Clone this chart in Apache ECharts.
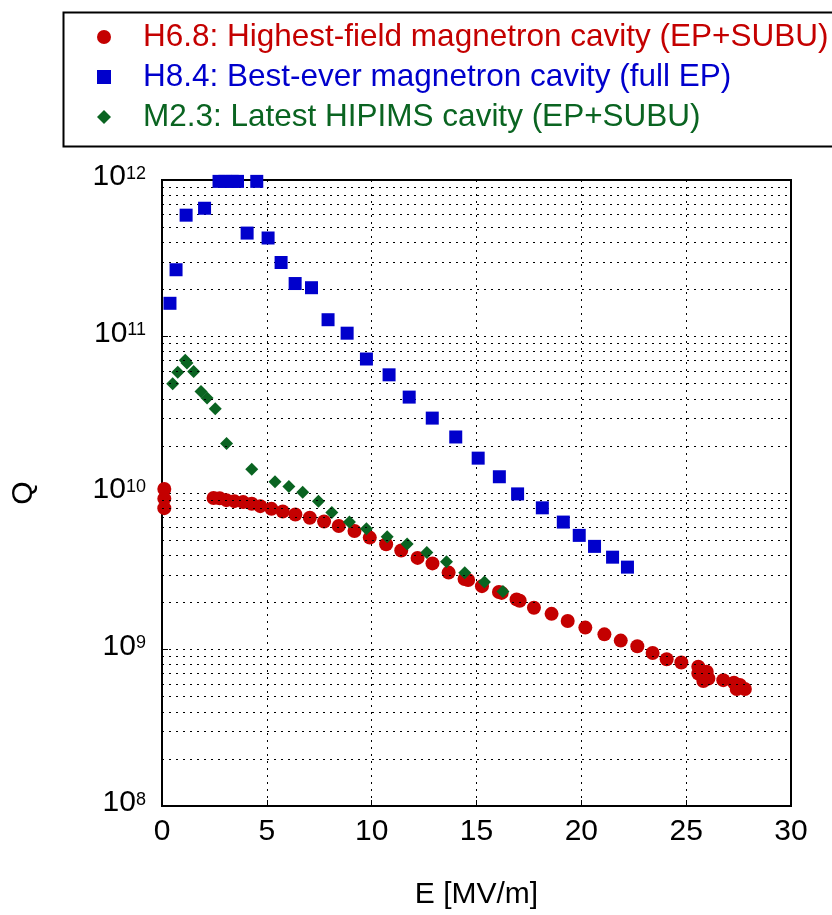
<!DOCTYPE html>
<html>
<head>
<meta charset="utf-8">
<script src="https://cdn.jsdelivr.net/npm/echarts@6/dist/echarts.min.js"></script>
<style>
  html, body { margin: 0; padding: 0; background: #fff; }
  #main { width: 832px; height: 915px; }
</style>
</head>
<body>
<div id="main"></div>
<script>
// data: E [MV/m] and Q
var redName = 'H6.8: Highest-field magnetron cavity (EP+SUBU)'
var blueName = 'H8.4: Best-ever magnetron cavity (full EP)'
var greenName = 'M2.3: Latest HIPIMS cavity (EP+SUBU)'

var redE = [0.11, 0.11, 0.11, 2.46, 2.75, 3.07, 3.45, 3.87, 4.28, 4.69, 5.22, 5.76, 6.36, 7.05, 7.73,
  8.43, 9.18, 9.91, 10.69, 11.41, 12.19, 12.9, 13.67, 14.43, 14.6, 15.26, 16.07, 16.2, 16.91, 17.06,
  17.74, 18.58, 19.35, 20.19, 21.1, 21.88, 22.67, 23.4, 24.07, 24.77, 25.58, 25.58, 25.98, 26.06,
  25.82, 26.77, 27.28, 27.56, 27.41, 27.8]
var redQ = [1.06e10, 9.2e9, 8.0e9, 9.3e9, 9.25e9, 9.0e9, 8.87e9, 8.75e9, 8.53e9, 8.24e9, 7.92e9, 7.62e9,
  7.29e9, 6.95e9, 6.58e9, 6.15e9, 5.72e9, 5.19e9, 4.7e9, 4.29e9, 3.85e9, 3.55e9, 3.1e9, 2.82e9, 2.78e9,
  2.54e9, 2.33e9, 2.3e9, 2.09e9, 2.05e9, 1.85e9, 1.69e9, 1.52e9, 1.38e9, 1.25e9, 1.14e9, 1.05e9, 9.5e8,
  8.67e8, 8.26e8, 7.76e8, 7.03e8, 7.21e8, 6.53e8, 6.28e8, 6.37e8, 6.14e8, 5.93e8, 5.59e8, 5.59e8]

var blueE = [0.38, 0.67, 1.15, 2.03, 2.72, 3.0, 3.35, 3.6, 4.52, 4.06, 5.06, 5.68, 6.35, 7.13, 7.92, 8.83,
  9.75, 10.83, 11.79, 12.89, 14.01, 15.08, 16.09, 16.96, 18.14, 19.14, 19.9, 20.63, 21.49, 22.2]
var blueQ = [1.63e11, 2.67e11, 5.96e11, 6.6e11, 9.8e11, 9.8e11, 9.8e11, 9.8e11, 9.8e11, 4.58e11, 4.26e11,
  2.97e11, 2.18e11, 2.05e11, 1.28e11, 1.05e11, 7.18e10, 5.69e10, 4.1e10, 3.01e10, 2.28e10, 1.67e10,
  1.27e10, 9.87e9, 8.04e9, 6.52e9, 5.36e9, 4.56e9, 3.89e9, 3.36e9]

var greenE = [0.51, 0.75, 1.11, 1.19, 1.51, 1.86, 2.15, 2.54, 3.08, 4.28, 5.39, 6.05, 6.71, 7.46, 8.1,
  8.94, 9.75, 10.74, 11.69, 12.63, 13.57, 14.44, 15.38, 16.26]
var greenQ = [4.99e10, 5.9e10, 7.04e10, 6.78e10, 5.97e10, 4.46e10, 4.04e10, 3.46e10, 2.07e10, 1.42e10,
  1.18e10, 1.1e10, 1.01e10, 8.87e9, 7.5e9, 6.52e9, 5.91e9, 5.26e9, 4.73e9, 4.16e9, 3.63e9, 3.09e9,
  2.7e9, 2.35e9]

// log grid: minor lines at 2..9 x 10^n
var decades = [8, 9, 10, 11]
var minorSteps = [2, 3, 4, 5, 6, 7, 8, 9]

var RED = '#c40000'
var BLUE = '#0000cc'
var GREEN = '#0a6421'
var FONT = "'Liberation Sans', Arial, sans-serif"

function pairs(xs, ys) {
  return xs.map(function (x, i) { return [x, ys[i]] })
}

var minorLines = []
decades.forEach(function (d) {
  minorSteps.forEach(function (k) {
    minorLines.push({ yAxis: k * Math.pow(10, d) })
  })
})

var dotted = { color: '#000', width: 1, type: [2, 5] }

var chart = echarts.init(document.getElementById('main'))
var option = {
  animation: false,
  backgroundColor: '#fff',
  textStyle: { fontFamily: FONT },
  // legend frame runs off the right edge, like the original
  graphic: [{
    type: 'rect',
    left: 61,
    top: 10,
    shape: { width: 820, height: 134 },
    style: { fill: 'none', stroke: '#000', lineWidth: 2 },
    silent: true
  }],
  legend: {
    orient: 'vertical',
    left: 97,
    top: 21,
    padding: 0,
    itemWidth: 14,
    itemHeight: 14,
    itemGap: 8,
    selectedMode: false,
    textStyle: { fontSize: 31.5, lineHeight: 32, fontFamily: FONT, padding: [0, 0, 0, 27] },
    data: [
      { name: redName, icon: 'circle', textStyle: { color: RED } },
      { name: blueName, icon: 'path://M0,0L10,0L10,10L0,10Z', textStyle: { color: BLUE } },
      { name: greenName, icon: 'path://M5,0L10,5L5,10L0,5Z', textStyle: { color: GREEN } }
    ]
  },
  grid: {
    left: 162,
    right: 41,
    top: 180,
    bottom: 108,
    show: true,
    borderColor: '#000',
    borderWidth: 2
  },
  xAxis: {
    type: 'value',
    min: 0,
    max: 30,
    interval: 5,
    name: 'E [MV/m]',
    nameLocation: 'middle',
    nameGap: 74,
    nameTextStyle: { fontSize: 30, color: '#000', fontFamily: FONT },
    axisLine: { show: true, lineStyle: { color: '#000', width: 2 } },
    axisTick: { show: true, inside: true, length: 6, lineStyle: { color: '#000' } },
    axisLabel: { fontSize: 30, color: '#000', margin: 11, fontFamily: FONT },
    splitLine: { show: true, lineStyle: dotted }
  },
  yAxis: {
    type: 'log',
    logBase: 10,
    min: 1e8,
    max: 1e12,
    name: 'Q',
    nameLocation: 'middle',
    nameGap: 123,
    nameRotate: 90,
    nameTextStyle: { fontSize: 30, color: '#000', fontFamily: FONT },
    axisLine: { show: true, lineStyle: { color: '#000', width: 2 } },
    axisTick: { show: true, inside: true, length: 6, lineStyle: { color: '#000' } },
    axisLabel: {
      margin: 16,
      formatter: function (v) {
        return '{b|10}{s|' + Math.round(Math.log10(v)) + '}'
      },
      rich: {
        b: { fontSize: 30, lineHeight: 30, color: '#000', padding: [8, 0, 14, 0], fontFamily: FONT },
        s: { fontSize: 18, lineHeight: 24, color: '#000', verticalAlign: 'top', fontFamily: FONT }
      }
    },
    splitLine: { show: true, lineStyle: dotted }
  },
  series: [
    {
      name: 'minor-grid',
      type: 'scatter',
      data: [],
      silent: true,
      markLine: {
        silent: true,
        symbol: 'none',
        label: { show: false },
        lineStyle: dotted,
        animation: false,
        data: minorLines
      }
    },
    {
      name: redName,
      type: 'scatter',
      symbol: 'circle',
      symbolSize: 14,
      itemStyle: { color: RED, opacity: 1 },
      data: pairs(redE, redQ),
      z: 3
    },
    {
      name: greenName,
      type: 'scatter',
      symbol: 'diamond',
      symbolSize: 13,
      itemStyle: { color: GREEN, opacity: 1 },
      data: pairs(greenE, greenQ),
      z: 4
    },
    {
      name: blueName,
      type: 'scatter',
      symbol: 'rect',
      symbolSize: 13,
      itemStyle: { color: BLUE, opacity: 1 },
      data: pairs(blueE, blueQ),
      z: 5
    }
  ]
}
chart.setOption(option)
</script>
</body>
</html>
